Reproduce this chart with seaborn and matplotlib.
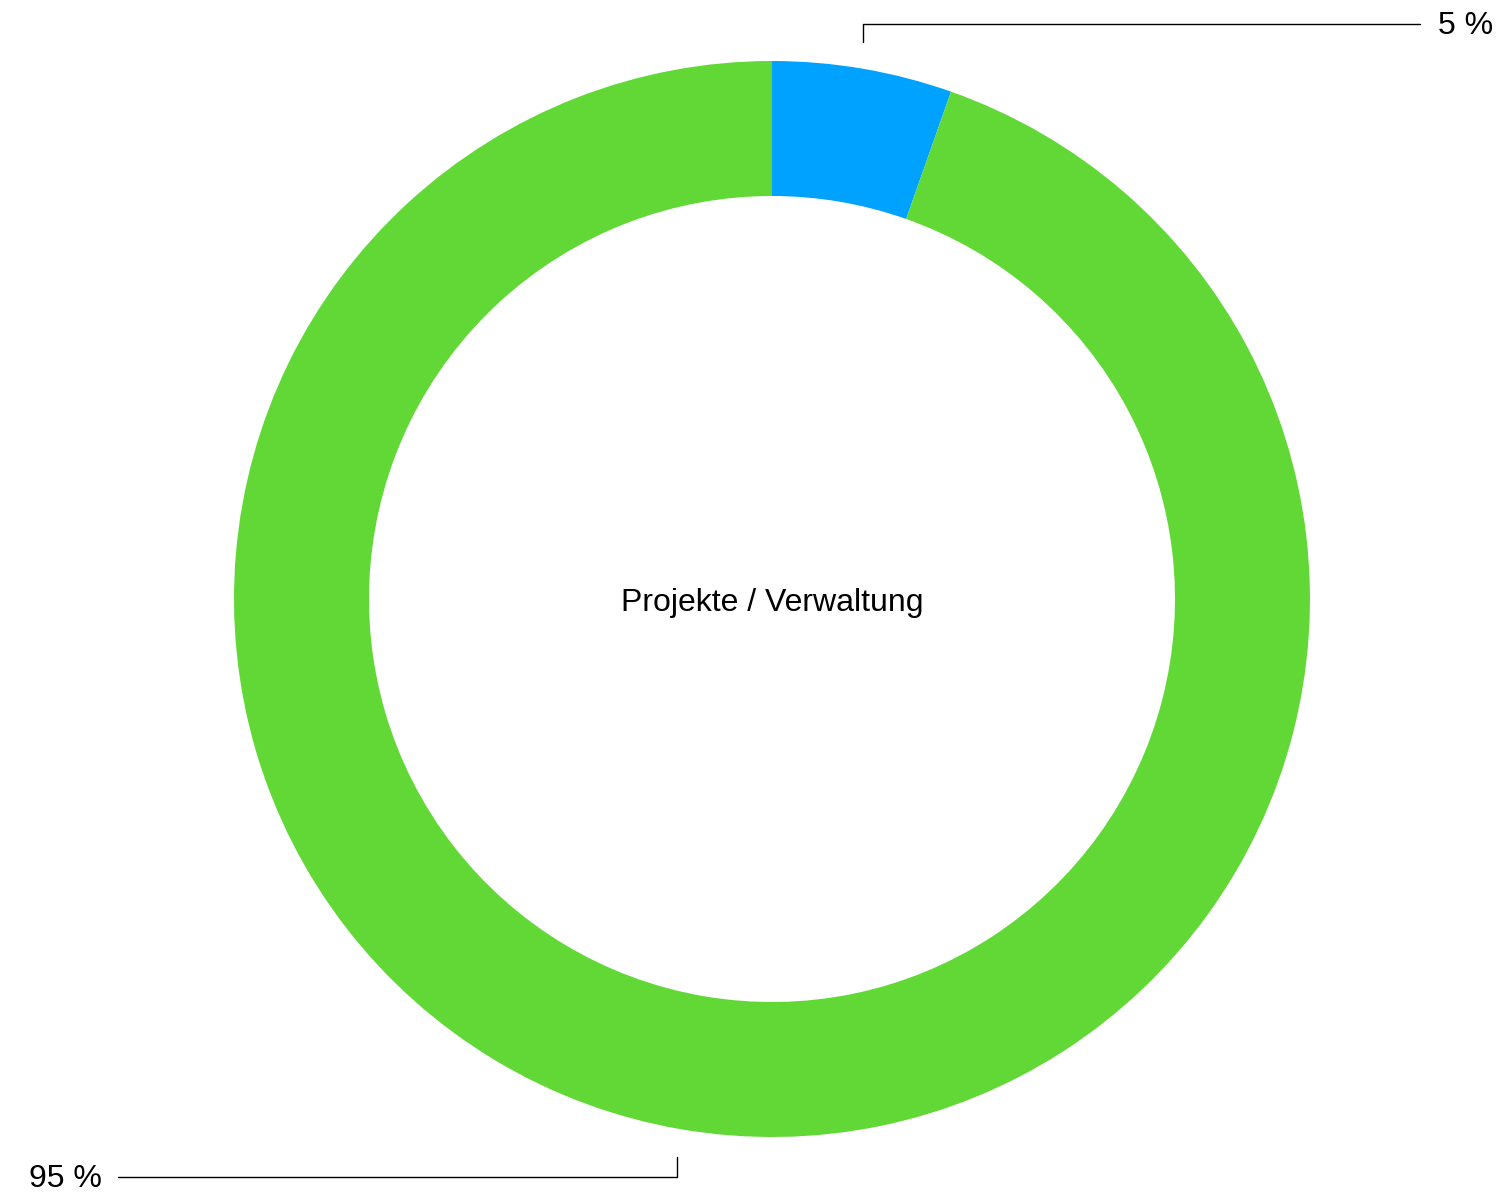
import matplotlib
matplotlib.use("Agg")
import matplotlib.pyplot as plt
import numpy as np
import seaborn as sns

# Data
categories = ['Projekte', 'Verwaltung']
shares = [5.4, 94.6]
colors = ['#00A2FF', '#61D836']
center_label = 'Projekte / Verwaltung'

sns.set_style('white')
plt.rcParams['font.family'] = ['Liberation Sans', 'DejaVu Sans']
plt.rcParams['text.color'] = 'black'

W, H = 1501, 1197
fig = plt.figure(figsize=(W / 100, H / 100), dpi=100)
ax = fig.add_axes([0, 0, 1, 1])

cx, cy = 772, H - 599
r_out, ring = 538, 135
wedges, _ = ax.pie(shares, colors=colors, center=(cx, cy), radius=r_out,
                   startangle=90, counterclock=False,
                   wedgeprops=dict(width=ring, linewidth=0))
ax.set_xlim(0, W)
ax.set_ylim(0, H)
ax.set_aspect('equal')
ax.axis('off')

ax.text(cx, cy - 4, center_label, ha='center', va='center', fontsize=23)

# leader lines with percentage labels
for w, v in zip(wedges, shares):
    mid = np.deg2rad((w.theta1 + w.theta2) / 2)
    x0 = cx + r_out * np.cos(mid)
    label = f'{round(v)} %'
    if np.sin(mid) > 0:
        y_tick, y_line = H - 42, H - 24
        x_end = 1420
        ax.plot([x0, x0, x_end], [y_tick, y_line, y_line], color='black', lw=1)
        ax.text(x_end + 18, y_line - 2, label, ha='left', va='center', fontsize=23)
    else:
        y_tick, y_line = H - 1157, H - 1177
        x0 -= 4
        x_end = 118
        ax.plot([x0, x0, x_end], [y_tick, y_line, y_line], color='black', lw=1)
        ax.text(x_end - 16, y_line - 2, label, ha='right', va='center', fontsize=23)

fig.savefig('out.png', dpi=100)
